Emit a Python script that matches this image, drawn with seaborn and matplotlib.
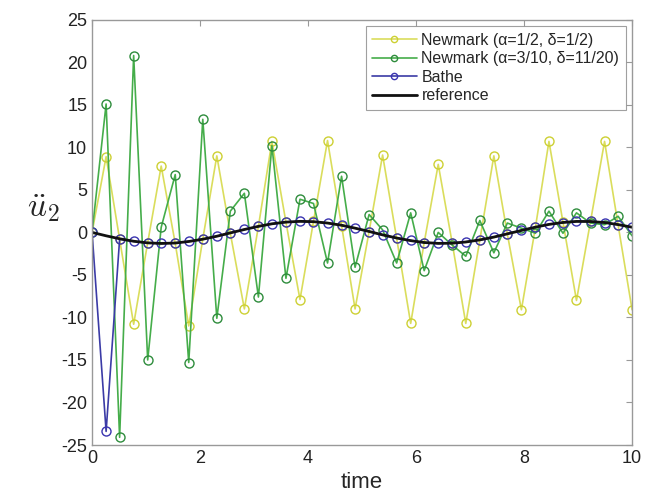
import matplotlib
matplotlib.use('Agg')
import matplotlib.pyplot as plt
import seaborn as sns

## 데이터
time = [0, 0.26, 0.51, 0.77, 1.03, 1.28, 1.54, 1.79, 2.05, 2.31,
        2.56, 2.82, 3.08, 3.33, 3.59, 3.85, 4.10, 4.36, 4.62, 4.87,
        5.13, 5.38, 5.64, 5.90, 6.15, 6.41, 6.67, 6.92, 7.18, 7.44,
        7.69, 7.95, 8.21, 8.46, 8.72, 8.97, 9.23, 9.49, 9.74, 10.0]

newmark_half = [0, 8.9, -0.8, -10.8, -1.2, 7.8, -1.3, -11.0, -0.8, 9.0,
                -0.1, -9.0, 0.7, 10.7, 1.2, -7.9, 1.3, 10.8, 0.8, -9.0,
                0.1, 9.1, -0.7, -10.7, -1.2, 8.0, -1.3, -10.7, -0.9, 9.0,
                -0.2, -9.1, 0.6, 10.7, 1.2, -8.0, 1.3, 10.7, 0.9, -9.1]

newmark_damped = [0, 15.1, -24.1, 20.8, -15.0, 0.6, 6.8, -15.3, 13.3, -10.1,
                  2.5, 4.6, -7.6, 10.2, -5.4, 3.9, 3.4, -3.6, 6.6, -4.1,
                  2.1, 0.3, -3.6, 2.3, -4.5, 0.0, -1.5, -2.8, 1.4, -2.4,
                  1.1, 0.5, -0.1, 2.5, -0.1, 2.3, 1.1, 0.9, 1.9, -0.4]

bathe = [0, -23.4, -0.8, -1.05, -1.25, -1.3, -1.25, -1.05, -0.8, -0.45,
         -0.05, 0.35, 0.7, 1.0, 1.2, 1.3, 1.25, 1.1, 0.85, 0.5,
         0.1, -0.3, -0.65, -0.95, -1.2, -1.3, -1.25, -1.1, -0.9, -0.55,
         -0.15, 0.25, 0.6, 0.95, 1.15, 1.3, 1.3, 1.15, 0.9, 0.6]

reference = [0, -0.40, -0.75, -1.04, -1.23, -1.30, -1.25, -1.07, -0.80, -0.45,
             -0.06, 0.34, 0.71, 1.01, 1.21, 1.30, 1.26, 1.10, 0.84, 0.50,
             0.11, -0.29, -0.66, -0.97, -1.19, -1.29, -1.27, -1.13, -0.88, -0.55,
             -0.17, 0.23, 0.62, 0.94, 1.17, 1.29, 1.28, 1.16, 0.92, 0.61]

labels = ['Newmark (α=1/2, δ=1/2)', 'Newmark (α=3/10, δ=11/20)', 'Bathe', 'reference']

## 스타일
sns.set_style('white')
plt.rcParams['font.family'] = ['Liberation Sans', 'DejaVu Sans']
plt.rcParams['mathtext.fontset'] = 'cm'
plt.rcParams['axes.unicode_minus'] = False

fig = plt.figure(figsize=(6.53, 4.95), dpi=100)
ax = fig.add_axes([0.141, 0.101, 0.827, 0.859])

mk = dict(marker='o', markerfacecolor='none', markersize=6.5, markeredgewidth=1.0, linewidth=1.2)
sns.lineplot(x=time, y=newmark_half, ax=ax, color='#dadd5c', markeredgecolor='#cdd033',
             label=labels[0], **mk)
sns.lineplot(x=time, y=newmark_damped, ax=ax, color='#45ad4a', markeredgecolor='#2e8c3c',
             label=labels[1], **mk)
sns.lineplot(x=time, y=bathe, ax=ax, color='#3b3ba6', markeredgecolor='#3a34b0',
             label=labels[2], **mk)
sns.lineplot(x=time, y=reference, ax=ax, color='#111111', linewidth=2.0, label=labels[3])

ax.set_xlim(0, 10)
ax.set_ylim(-25, 25)
ax.set_xticks([0, 2, 4, 6, 8, 10])
ax.set_yticks(range(-25, 26, 5))
ax.tick_params(direction='in', top=True, right=True, labelsize=13, length=4,
               color='#999999', labelcolor='#222222')
for s in ax.spines.values():
    s.set_color('#999999')
    s.set_linewidth(1.0)

ax.set_xlabel('time', fontsize=16, labelpad=4)
ax.set_ylabel(r'$\ddot{u}_2$', fontsize=24, rotation=0, labelpad=22)
ax.yaxis.set_label_coords(-0.09, 0.52)

leg = ax.legend(loc='upper right', fontsize=11.5, frameon=True, fancybox=False,
                handlelength=2.8, borderpad=0.4, labelspacing=0.22, handletextpad=0.3,
                borderaxespad=0.4)
leg.get_frame().set_edgecolor('#888888')
leg.get_frame().set_linewidth(0.8)
for h in leg.legend_handles:
    h.set_markersize(4.5)

plt.savefig('out.png', dpi=100)
